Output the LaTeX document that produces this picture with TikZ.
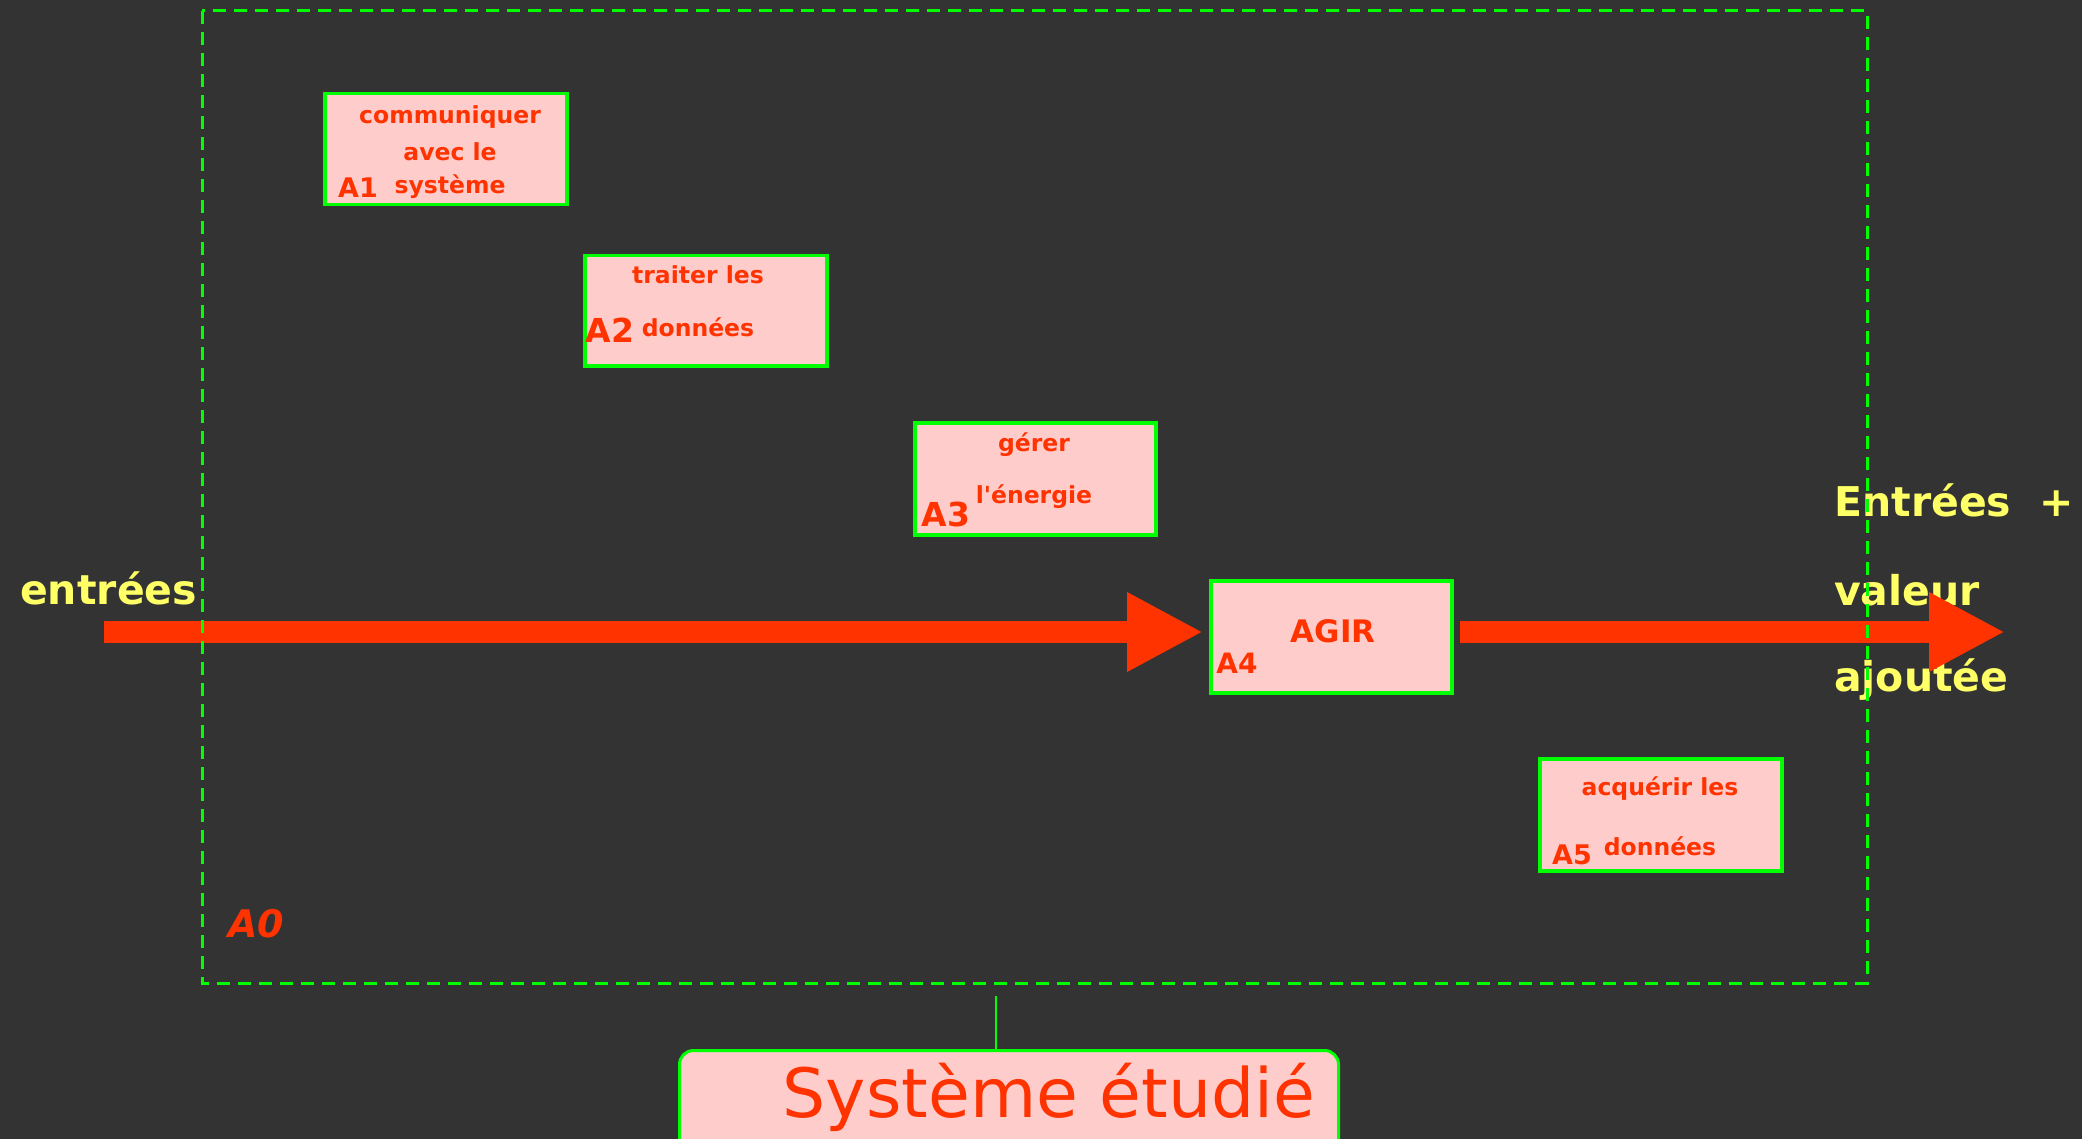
\documentclass[tikz,border=0pt]{standalone}
\usepackage{fontspec}
\setmainfont{DejaVu Sans}
\usetikzlibrary{arrows.meta}
\definecolor{bgc}{HTML}{333333}
\definecolor{redc}{HTML}{FF3300}
\definecolor{pinkc}{HTML}{FFCCCC}
\definecolor{greenc}{HTML}{00FF00}
\definecolor{yelc}{HTML}{FFFF66}
\tikzset{
  fbox/.style={draw=greenc, line width=3.5pt, fill=pinkc, inner sep=0pt, anchor=north west},
  btxt/.style={text=redc, font=\fontsize{23.5}{26}\selectfont\bfseries, inner sep=0pt},
  lbl/.style={text=redc, font=\fontsize{#1}{#1}\selectfont\bfseries, inner sep=0pt},
  ytxt/.style={text=yelc, font=\fontsize{41}{44}\selectfont\bfseries, inner sep=0pt, anchor=west},
  bigarrow/.style={draw=redc, line width=22pt, -{Triangle[length=76pt,width=74pt]}}
}
\begin{document}
\begin{tikzpicture}[x=1pt,y=-1pt]
\useasboundingbox (0,0) rectangle (2082,1139);
\clip (0,0) rectangle (2082,1139);
\fill[bgc] (0,0) rectangle (2082,1139);
% boxes
\node[fbox, minimum width=242pt, minimum height=111pt] (b1) at (323,92) {};
\node[fbox, minimum width=242pt, minimum height=110pt] (b2) at (583,254) {};
\node[fbox, minimum width=241pt, minimum height=112pt] (b3) at (913,421) {};
\node[fbox, minimum width=241pt, minimum height=112pt] (b4) at (1209,579) {};
\node[fbox, minimum width=242pt, minimum height=112pt] (b5) at (1538,757) {};
% box texts
\node[btxt] (t1a) at (450,117) {communiquer};
\node[btxt] (t1b) at (450,152) {avec le};
\node[btxt] (t1c) at (450,187) {système};
\node[lbl=27] (l1) at (358,188) {A1};
\node[btxt] (t2a) at (698,275) {traiter les};
\node[btxt] (t2b) at (698,327) {données};
\node[lbl=33] (l2) at (610,330) {A2};
\node[btxt] (t3a) at (1034,445) {gérer};
\node[btxt] (t3b) at (1034,497) {l\textquotesingle énergie};
\node[lbl=33] (l3) at (946,514) {A3};
\node[lbl=31] (t4) at (1333,631) {AGIR};
\node[lbl=28] (l4) at (1237,663) {A4};
\node[btxt] (t5a) at (1660,789) {acquérir les};
\node[btxt] (t5b) at (1660,846) {données};
\node[lbl=27] (l5) at (1572,855) {A5};
% A0
\node[text=redc, font=\fontsize{38}{38}\selectfont\bfseries\itshape, inner sep=0pt] (a0) at (256,924) {A0};
% yellow texts
\node[ytxt] (ein) at (20,588) {entrées};
\node[ytxt] (eo1) at (1834,500) {Entrées~~+};
\node[ytxt] (eo2) at (1834,590) {valeur};
\node[ytxt] (eo3) at (1834,680) {ajoutée};
% arrows
\coordinate (s1) at (104,632);
\coordinate (e2) at (2005,632);
\draw[bigarrow, shorten >=6pt] (s1) -- (b4.west |- s1);
\draw[bigarrow, shorten <=6pt] (b4.east |- e2) -- (e2);
% dashed system boundary
\draw[greenc, line width=3pt, dash pattern=on 13pt off 8pt] (202,11) rectangle (1867,983);
% system label
\node[draw=greenc, line width=3pt, fill=pinkc, rounded corners=14pt, anchor=north west, minimum width=659pt, minimum height=120pt, inner sep=0pt] (sys) at (678,1049) {};
\node[text=redc, font=\fontsize{68}{68}\selectfont, inner sep=0pt] (syst) at (1049,1097) {Système étudié};
\coordinate (tick) at (996,996);
\draw[greenc, line width=2.5pt] (tick) -- (tick |- sys.north);
\end{tikzpicture}
\end{document}
